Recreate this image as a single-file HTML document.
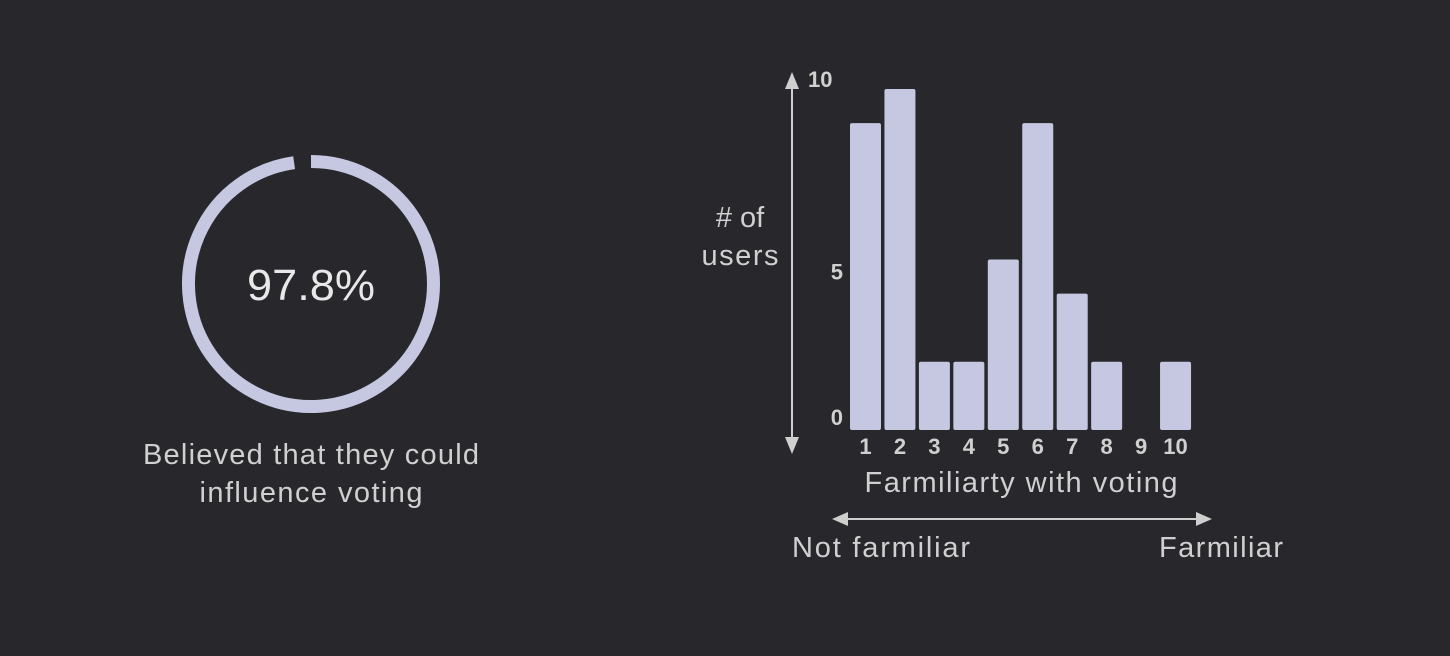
<!DOCTYPE html>
<html><head><meta charset="utf-8"><style>
html,body{margin:0;padding:0;background:#28272c;}
svg{display:block;font-family:"Liberation Sans",sans-serif;}
</style></head><body>
<svg width="1450" height="656" viewBox="0 0 1450 656">
<rect width="1450" height="656" fill="#28272c"/>
<g id="donut"></g>
<text x="311" y="300" text-anchor="middle" font-size="44" fill="#e8e8e8" textLength="128" lengthAdjust="spacingAndGlyphs">97.8%</text>
<text x="311" y="464" text-anchor="middle" font-size="29" fill="#d0d0d0" textLength="336" lengthAdjust="spacing">Believed that they could</text>
<text x="311" y="502" text-anchor="middle" font-size="29" fill="#d0d0d0" textLength="223" lengthAdjust="spacing">influence voting</text>
<g id="bars"></g>
<line x1="792" y1="84" x2="792" y2="440" stroke="#cfcfcf" stroke-width="2"/>
<polygon points="785,89 799,89 792,72" fill="#cfcfcf"/>
<polygon points="785,437 799,437 792,454" fill="#cfcfcf"/>
<text x="740" y="227" text-anchor="middle" font-size="29" fill="#d0d0d0"># of</text>
<text x="740" y="265" text-anchor="middle" font-size="29" fill="#d0d0d0" textLength="77" lengthAdjust="spacing">users</text>
<text x="1021" y="492" text-anchor="middle" font-size="29" fill="#d0d0d0" textLength="313" lengthAdjust="spacing">Farmiliarty with voting</text>
<line x1="843" y1="519" x2="1200" y2="519" stroke="#cfcfcf" stroke-width="2"/>
<polygon points="848,512 848,526 832,519" fill="#cfcfcf"/>
<polygon points="1196,512 1196,526 1212,519" fill="#cfcfcf"/>
<text x="881" y="557" text-anchor="middle" font-size="29" fill="#d0d0d0" textLength="178" lengthAdjust="spacing">Not farmiliar</text>
<text x="1221" y="557" text-anchor="middle" font-size="29" fill="#d0d0d0" textLength="124" lengthAdjust="spacing">Farmiliar</text>
</svg>
<script>
const categories = ["1","2","3","4","5","6","7","8","9","10"];
const userCounts = [9,10,2,2,5,9,4,2,0,2];
const yTicks = [0,5,10];
const donutValue = 97.8;

const NS = "http://www.w3.org/2000/svg";
const y = v => 430 - v * 34.1;
const x = i => 850 + i * 34.45;
const bw = 31;

const bars = document.getElementById("bars");
categories.forEach((c, i) => {
  const v = userCounts[i];
  if (v > 0) {
    const r = document.createElementNS(NS, "rect");
    r.setAttribute("x", x(i));
    r.setAttribute("y", y(v));
    r.setAttribute("width", bw);
    r.setAttribute("height", 430 - y(v));
    r.setAttribute("rx", 2);
    r.setAttribute("fill", "#c5c8e0");
    
    
    bars.appendChild(r);
  }
  const t = document.createElementNS(NS, "text");
  t.setAttribute("x", x(i) + bw / 2);
  t.setAttribute("y", 454);
  t.setAttribute("text-anchor", "middle");
  t.setAttribute("font-size", "22");
  t.setAttribute("font-weight", "bold");
  t.setAttribute("fill", "#d0d0d0");
  t.textContent = c;
  
  
  bars.appendChild(t);
});
yTicks.forEach(v => {
  const t = document.createElementNS(NS, "text");
  t.setAttribute("x", v === 10 ? 808 : 843);
  t.setAttribute("y", y(v) + (v === 10 ? -2 : v === 0 ? -5 : 20));
  t.setAttribute("text-anchor", v === 10 ? "start" : "end");
  t.setAttribute("font-size", "22");
  t.setAttribute("font-weight", "bold");
  t.setAttribute("fill", "#d0d0d0");
  t.textContent = v;
  
  
  bars.appendChild(t);
});

// donut
const cx = 311, cy = 284, R = 122.5;
const ang = donutValue / 100 * 2 * Math.PI;
const ex = cx + R * Math.sin(ang), ey = cy - R * Math.cos(ang);
const arc = document.createElementNS(NS, "path");
arc.setAttribute("d", `M ${cx} ${cy - R} A ${R} ${R} 0 1 1 ${ex} ${ey}`);
arc.setAttribute("fill", "none");
arc.setAttribute("stroke", "#c5c8e0");
arc.setAttribute("stroke-width", 13);


document.getElementById("donut").appendChild(arc);
</script>
</body></html>
